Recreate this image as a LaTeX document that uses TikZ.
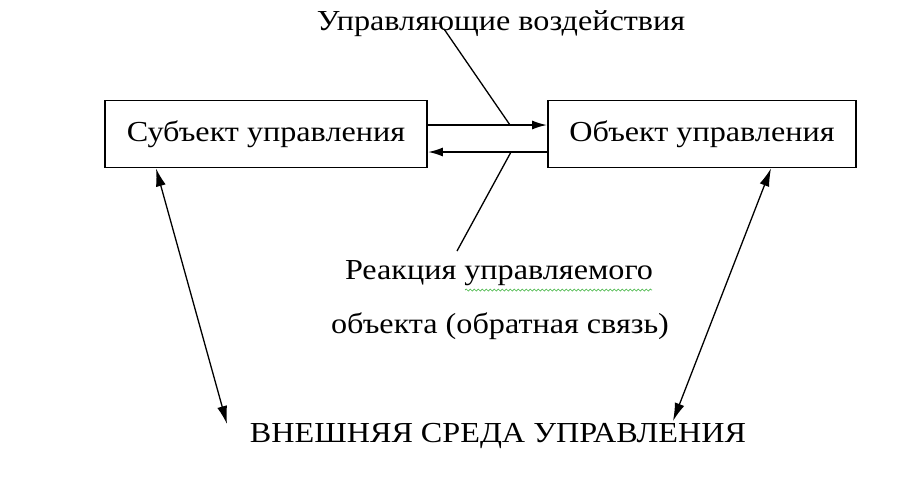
\documentclass[tikz,border=0pt]{standalone}
\usepackage{fontspec}
\setmainfont{Liberation Serif}
\newfontfamily\schemefont{Liberation Serif}[FakeStretch=1.11]
\usetikzlibrary{arrows.meta,positioning,decorations.pathmorphing}
\tikzset{
scheme/.style={x=1pt,y=-1pt,>={Latex[length=15pt,width=9pt]},
font=\schemefont\fontsize{29}{34}\selectfont},
unit/.style={draw,line width=1.7pt,minimum width=322pt,minimum height=67pt,inner sep=0pt},
caption/.style={inner sep=0pt},
flow/.style={->,line width=1.9pt},
pointer/.style={line width=1.3pt},
link/.style={<->,line width=1.3pt,>={Latex[length=18pt,width=10pt]}},
spell/.style={decorate,decoration={snake,amplitude=1pt,segment length=4pt},
green!60!black!70,line width=0.7pt},
}
\begin{document}
\begin{tikzpicture}[scheme]
\useasboundingbox (0,0) rectangle (920,498);
\node[unit] (subj) at (266,134) {Субъект управления};
\node[unit,minimum width=308pt] (obj) at (702,134) {Объект управления};
\node[caption] (ctrl) at (501,24) {Управляющие воздействия};
\node[caption] (react) at (499,273) {Реакция управляемого};
\node[caption] (fb) at (500,326) {объекта (обратная связь)};
\node[caption,font=\schemefont\fontsize{29}{34}\selectfont] (env) at (498,436) {ВНЕШНЯЯ СРЕДА УПРАВЛЕНИЯ};

\coordinate (fwd) at (510,125);
\coordinate (bwd) at (511,152);
\coordinate (ctrl tail) at (444,29);
\coordinate (react tail) at (457,251);
\coordinate (env left) at (227,424);
\coordinate (env right) at (673,421);

\draw[flow] ([yshift=9pt]subj.east) -- ([yshift=9pt]obj.west);
\draw[flow] ([yshift=-18pt]obj.west) -- ([yshift=-18pt]subj.east);
\draw[pointer] (ctrl tail) -- (fwd);
\draw[pointer] (bwd) -- (react tail);
\draw[link] ([xshift=-110pt]subj.south) -- (env left);
\draw[link] ([xshift=69pt]obj.south) -- (env right);
\draw[spell] (465,290) -- (652,290);
\end{tikzpicture}
\end{document}
